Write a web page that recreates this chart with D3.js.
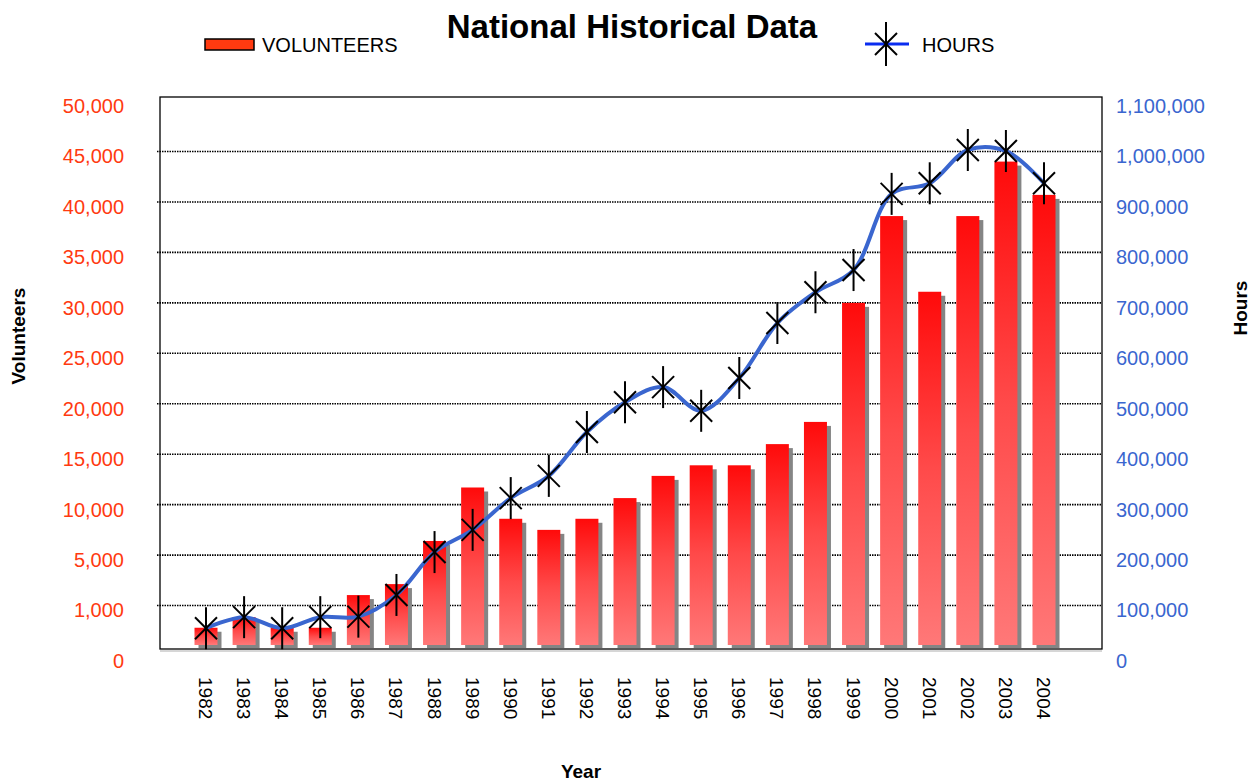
<!DOCTYPE html>
<html>
<head>
<meta charset="utf-8">
<script src="https://cdn.jsdelivr.net/npm/d3@7"></script>
<style>
  body { margin: 0; background: #fff; }
  svg { font-family: "Liberation Sans", Arial, sans-serif; }
</style>
</head>
<body>
<svg width="1252" height="781"></svg>
<script>
// data
var years = ["1982", "1983", "1984", "1985", "1986", "1987", "1988", "1989", "1990", "1991", "1992",
    "1993", "1994", "1995", "1996", "1997", "1998", "1999", "2000", "2001", "2002", "2003", "2004"];
var volunteers = [560, 770, 560, 560, 1830, 2700, 6400, 11700, 8600, 7500, 8600,
    10650, 12850, 13900, 13900, 16000, 18200, 30000, 38600, 31100, 38600, 44000, 40700];
var hours = [55000, 77000, 55000, 77000, 78000, 121000, 206000, 250000, 313000, 357000, 444000,
    503000, 533000, 486000, 551000, 660000, 721000, 765000, 916000, 937000, 1003000, 1001000, 937000];
var leftTicks = [0, 1000, 5000, 10000, 15000, 20000, 25000, 30000, 35000, 40000, 45000, 50000];
var rightTicks = [0, 100000, 200000, 300000, 400000, 500000, 600000, 700000, 800000, 900000, 1000000, 1100000];

var svg = d3.select("svg");
var plot = {left: 160, right: 1102, top: 97, bottom: 649};
var y0 = 656, step = 50.45;

var x = d3.scalePoint().domain(years).range([206, 1044]);

// left axis is not linear below 5,000 (labels 0, 1,000, 5,000 equally spaced)
var yL = d3.scaleLinear()
    .domain([0, 1000, 5000, 50000])
    .range([y0, y0 - step, y0 - 2 * step, y0 - 11 * step]);
var yR = d3.scaleLinear().domain([0, 1100000]).range([y0, y0 - 11 * step]);

var defs = svg.append("defs");
var grad = defs.append("linearGradient")
    .attr("id", "barGrad")
    .attr("x1", 0).attr("y1", 0).attr("x2", 0).attr("y2", 1);
grad.append("stop").attr("offset", "0%").attr("stop-color", "#ff0a0a");
grad.append("stop").attr("offset", "50%").attr("stop-color", "#ff4a4a");
grad.append("stop").attr("offset", "100%").attr("stop-color", "#ff7878");

// gridlines
svg.append("g")
    .selectAll("line")
    .data(rightTicks.slice(1, -1))
    .enter()
    .append("line")
    .attr("x1", plot.left - 3)
    .attr("x2", plot.right)
    .attr("y1", function (d) { return yR(d); })
    .attr("y2", function (d) { return yR(d); })
    .attr("stroke", "#000")
    .attr("stroke-width", 1.6)
    .attr("stroke-dasharray", "1.5,1");

// bars with shadow
var barW = 23, base = plot.bottom - 4;
var bars = svg.append("g");
bars.selectAll("rect.shadow")
    .data(volunteers)
    .enter()
    .append("rect")
    .attr("class", "shadow")
    .attr("x", function (d, i) { return x(years[i]) - barW / 2 + 4; })
    .attr("y", function (d) { return yL(d) + 4; })
    .attr("width", barW)
    .attr("height", function (d) { return base + 3 - (yL(d) + 4); })
    .attr("fill", "#858585");
bars.selectAll("rect.bar")
    .data(volunteers)
    .enter()
    .append("rect")
    .attr("class", "bar")
    .attr("x", function (d, i) { return x(years[i]) - barW / 2; })
    .attr("y", function (d) { return yL(d); })
    .attr("width", barW)
    .attr("height", function (d) { return base - yL(d); })
    .attr("fill", "url(#barGrad)");

// frame
svg.append("rect")
    .attr("x", plot.left).attr("y", plot.top)
    .attr("width", plot.right - plot.left).attr("height", plot.bottom - plot.top)
    .attr("fill", "none").attr("stroke", "#000").attr("stroke-width", 1.3);
svg.append("line")
    .attr("x1", plot.left).attr("x2", plot.right)
    .attr("y1", plot.bottom + 2).attr("y2", plot.bottom + 2)
    .attr("stroke", "#c8c8c8").attr("stroke-width", 1.5);

// hours line
var line = d3.line()
    .x(function (d, i) { return x(years[i]); })
    .y(function (d) { return yR(d); })
    .curve(d3.curveCatmullRom);
svg.append("path")
    .datum(hours)
    .attr("fill", "none")
    .attr("stroke", "#3a66cf")
    .attr("stroke-width", 4)
    .attr("stroke-linejoin", "round")
    .attr("stroke-linecap", "round")
    .attr("d", line);

function star(g, r) {
    g.append("line").attr("x1", 0).attr("x2", 0).attr("y1", -r).attr("y2", r);
    g.append("line").attr("x1", -11).attr("x2", 11).attr("y1", -11).attr("y2", 11);
    g.append("line").attr("x1", -11).attr("x2", 11).attr("y1", 11).attr("y2", -11);
    g.selectAll("line").attr("stroke", "#000").attr("stroke-width", 2);
}

svg.append("g")
    .selectAll("g")
    .data(hours)
    .enter()
    .append("g")
    .attr("transform", function (d, i) { return "translate(" + x(years[i]) + "," + yR(d) + ")"; })
    .each(function () { star(d3.select(this), 21); });

// axes
var fmt = d3.format(",");
var leftAxis = svg.append("g")
    .attr("transform", "translate(" + (plot.left - 36) + ",0)")
    .call(d3.axisLeft(yL).tickValues(leftTicks).tickSize(0).tickPadding(0).tickFormat(fmt));
leftAxis.select(".domain").remove();
leftAxis.selectAll("text")
    .attr("fill", "#ff3a10")
    .attr("y", 5)
    .style("font-size", "20px")
    .style("font-family", "Liberation Sans, Arial, sans-serif");

var rightAxis = svg.append("g")
    .attr("transform", "translate(" + (plot.right + 14) + ",0)")
    .call(d3.axisRight(yR).tickValues(rightTicks).tickSize(0).tickPadding(0).tickFormat(fmt));
rightAxis.select(".domain").remove();
rightAxis.selectAll("text")
    .attr("fill", "#3a66cf")
    .attr("y", 5)
    .style("font-size", "20px")
    .style("font-family", "Liberation Sans, Arial, sans-serif");

svg.append("g")
    .selectAll("text")
    .data(years)
    .enter()
    .append("text")
    .attr("transform", function (d) { return "translate(" + (x(d) - 7) + ",677) rotate(90)"; })
    .attr("font-size", 19)
    .attr("fill", "#000")
    .text(function (d) { return d; });

// titles
svg.append("text")
    .attr("x", 632).attr("y", 38)
    .attr("text-anchor", "middle")
    .attr("font-size", 33).attr("font-weight", "bold")
    .text("National Historical Data");
svg.append("text")
    .attr("x", 581).attr("y", 778)
    .attr("text-anchor", "middle")
    .attr("font-size", 19).attr("font-weight", "bold")
    .text("Year");
svg.append("text")
    .attr("transform", "translate(25,336) rotate(-90)")
    .attr("text-anchor", "middle")
    .attr("font-size", 19).attr("font-weight", "bold")
    .text("Volunteers");
svg.append("text")
    .attr("transform", "translate(1247,308) rotate(-90)")
    .attr("text-anchor", "middle")
    .attr("font-size", 19).attr("font-weight", "bold")
    .text("Hours");

// legend
var legend = svg.append("g");
legend.append("rect")
    .attr("x", 205).attr("y", 39).attr("width", 49).attr("height", 11)
    .attr("fill", "#ff3a10").attr("stroke", "#000").attr("stroke-width", 1.5);
legend.append("text")
    .attr("x", 262).attr("y", 52).attr("font-size", 20)
    .text("VOLUNTEERS");
legend.append("line")
    .attr("x1", 865).attr("x2", 909).attr("y1", 44).attr("y2", 44)
    .attr("stroke", "#0a2cf0").attr("stroke-width", 3);
var lstar = legend.append("g").attr("transform", "translate(886,44)");
star(lstar, 22);
legend.append("text")
    .attr("x", 922).attr("y", 52).attr("font-size", 20)
    .text("HOURS");
</script>
</body>
</html>
